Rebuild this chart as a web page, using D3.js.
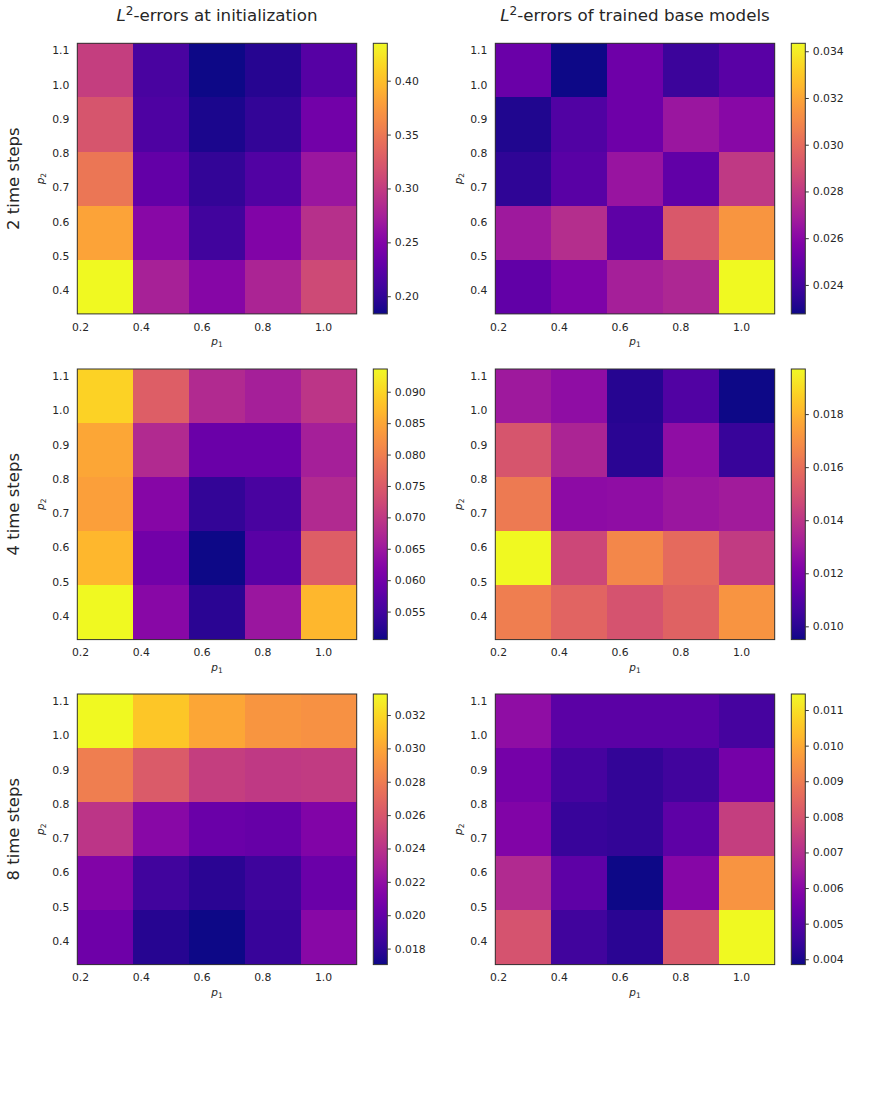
<!DOCTYPE html>
<html><head><meta charset="utf-8">
<script src="https://cdn.jsdelivr.net/npm/d3@7"></script>
<style>body{margin:0;background:#fff}svg{display:block}text{font-family:"DejaVu Sans",sans-serif;fill:#262626}</style>
</head><body>
<script>
// cell centres (data units) and tick labels
const p1Values = [0.283, 0.467, 0.651, 0.835, 1.019];
const p2Values = [0.410, 0.568, 0.726, 0.884, 1.042];
const p1Ticks = [0.2, 0.4, 0.6, 0.8, 1.0];
const p2Ticks = [0.4, 0.5, 0.6, 0.7, 0.8, 0.9, 1.0, 1.1];
const colTitles = ["errors at initialization", "errors of trained base models"];
const rowTitles = ["2 time steps", "4 time steps", "8 time steps"];
// rows listed top (high p2) to bottom (low p2)
const init2 = [
  [0.3016, 0.2137, 0.1836, 0.1936, 0.2213],
  [0.3217, 0.2162, 0.1886, 0.2012, 0.2388],
  [0.3493, 0.2288, 0.2012, 0.2188, 0.2665],
  [0.3820, 0.2539, 0.2087, 0.2489, 0.2891],
  [0.4347, 0.2765, 0.2514, 0.2790, 0.3117]];
const trained2 = [
  [0.02508, 0.02276, 0.02519, 0.02380, 0.02461],
  [0.02311, 0.02438, 0.02519, 0.02658, 0.02600],
  [0.02345, 0.02461, 0.02647, 0.02484, 0.02797],
  [0.02670, 0.02751, 0.02473, 0.02924, 0.03145],
  [0.02484, 0.02566, 0.02693, 0.02728, 0.03434]];
const init4 = [
  [0.08974, 0.07553, 0.06777, 0.06605, 0.06950],
  [0.08500, 0.06777, 0.05916, 0.05916, 0.06605],
  [0.08414, 0.06217, 0.05356, 0.05571, 0.06777],
  [0.08673, 0.06002, 0.05054, 0.05743, 0.07553],
  [0.09362, 0.06260, 0.05269, 0.06476, 0.08673]];
const trained4 = [
  [0.01297, 0.01256, 0.00991, 0.01093, 0.00950],
  [0.01511, 0.01338, 0.01001, 0.01256, 0.01032],
  [0.01633, 0.01246, 0.01256, 0.01287, 0.01307],
  [0.01970, 0.01460, 0.01674, 0.01582, 0.01419],
  [0.01644, 0.01562, 0.01501, 0.01552, 0.01715]];
const init8 = [
  [0.03326, 0.03131, 0.03002, 0.02921, 0.02904],
  [0.02807, 0.02629, 0.02466, 0.02434, 0.02450],
  [0.02418, 0.02158, 0.02028, 0.02012, 0.02126],
  [0.02126, 0.01866, 0.01785, 0.01850, 0.02028],
  [0.02045, 0.01769, 0.01704, 0.01834, 0.02158]];
const trained8 = [
  [0.00613, 0.00507, 0.00507, 0.00507, 0.00469],
  [0.00560, 0.00469, 0.00438, 0.00461, 0.00560],
  [0.00583, 0.00446, 0.00438, 0.00514, 0.00742],
  [0.00689, 0.00514, 0.00385, 0.00590, 0.00955],
  [0.00795, 0.00461, 0.00423, 0.00811, 0.01145]];
const cbTicks = [
  [[0.20, 0.25, 0.30, 0.35, 0.40], [0.024, 0.026, 0.028, 0.030, 0.032, 0.034]],
  [[0.055, 0.060, 0.065, 0.070, 0.075, 0.080, 0.085, 0.090], [0.010, 0.012, 0.014, 0.016, 0.018]],
  [[0.018, 0.020, 0.022, 0.024, 0.026, 0.028, 0.030, 0.032], [0.004, 0.005, 0.006, 0.007, 0.008, 0.009, 0.010, 0.011]]];
const cbFormats = [[".2f", ".3f"], [".3f", ".3f"], [".3f", ".3f"]];
const panels = [[init2, trained2], [init4, trained4], [init8, trained8]];

const W = 872, H = 1119;
const svg = d3.select("body").append("svg").attr("width", W).attr("height", H);
const defs = svg.append("defs");
const colX = [77.3, 495.3], plotW = 279.4, cbOff = 296, cbW = 14;
const rowY = [43.3, 369, 694], plotH = 270.6;
const step1 = p1Values[1] - p1Values[0], step2 = p2Values[1] - p2Values[0];
const xDom = [p1Values[0] - step1 / 2, p1Values[4] + step1 / 2];
const yDom = [p2Values[0] - step2 / 2, p2Values[4] + step2 / 2];

// gradient for colorbars
const grad = defs.append("linearGradient").attr("id", "plasma").attr("x1", 0).attr("x2", 0).attr("y1", 1).attr("y2", 0);
d3.range(0, 1.0001, 0.02).forEach(t => grad.append("stop").attr("offset", t).attr("stop-color", d3.interpolatePlasma(t)));

rowY.forEach((y0, r) => {
  colX.forEach((x0, c) => {
    const data = panels[r][c];
    const flat = data.flat();
    const ext = d3.extent(flat);
    const color = d3.scaleSequential(d3.interpolatePlasma).domain(ext);
    const x = d3.scaleLinear().domain(xDom).range([x0, x0 + plotW]);
    const y = d3.scaleLinear().domain(yDom).range([y0 + plotH, y0]);
    const g = svg.append("g");
    const cells = [];
    data.forEach((row, i) => row.forEach((v, j) => cells.push({ i: 4 - i, j, p1: p1Values[j], p2: p2Values[4 - i], v })));
    // cell edges: midpoints between neighbouring centres
    const e1 = [xDom[0], ...d3.range(4).map(k => (p1Values[k] + p1Values[k + 1]) / 2), xDom[1]].map(v => Math.round(x(v)));
    const e2 = [yDom[0], ...d3.range(4).map(k => (p2Values[k] + p2Values[k + 1]) / 2), yDom[1]].map(v => Math.round(y(v)));
    g.selectAll("rect.cell").data(cells).join("rect")
      .attr("x", d => e1[d.j]).attr("width", d => e1[d.j + 1] - e1[d.j])
      .attr("y", d => e2[d.i + 1]).attr("height", d => e2[d.i] - e2[d.i + 1])
      .attr("fill", d => color(d.v)).attr("shape-rendering", "crispEdges");
    g.append("rect").attr("x", x0).attr("y", y0).attr("width", plotW).attr("height", plotH)
      .attr("fill", "none").attr("stroke", "#333").attr("stroke-width", 1);
    // x axis
    const xa = g.append("g").attr("transform", `translate(0,${y0 + plotH})`)
      .call(d3.axisBottom(x).tickValues(p1Ticks).tickFormat(d3.format(".1f")).tickSize(0).tickPadding(9));
    xa.select(".domain").remove();
    xa.selectAll("text").attr("font-size", 10.8).attr("fill", "#262626");
    const ya = g.append("g").attr("transform", `translate(${x0},0)`)
      .call(d3.axisLeft(y).tickValues(p2Ticks).tickFormat(d3.format(".1f")).tickSize(0).tickPadding(8));
    ya.select(".domain").remove();
    ya.selectAll("text").attr("font-size", 10.8).attr("fill", "#262626");
    // axis labels
    const xl = g.append("text").attr("x", x0 + plotW / 2).attr("y", y0 + plotH + 31)
      .attr("text-anchor", "middle").attr("font-size", 10.5);
    xl.append("tspan").attr("font-style", "italic").text("p");
    xl.append("tspan").attr("font-size", 7.5).attr("dy", 2).text("1");
    const yl = g.append("text").attr("transform", `translate(${x0 - 33},${y0 + plotH / 2}) rotate(-90)`)
      .attr("text-anchor", "middle").attr("font-size", 10.5);
    yl.append("tspan").attr("font-style", "italic").text("p");
    yl.append("tspan").attr("font-size", 7.5).attr("dy", 2).text("2");
    // colorbar
    const cx = x0 + cbOff;
    const cy = d3.scaleLinear().domain(ext).range([y0 + plotH, y0]);
    g.append("rect").attr("x", cx).attr("y", y0).attr("width", cbW).attr("height", plotH)
      .attr("fill", "url(#plasma)").attr("stroke", "#333").attr("stroke-width", 1);
    const ca = g.append("g").attr("transform", `translate(${cx + cbW},0)`)
      .call(d3.axisRight(cy).tickValues(cbTicks[r][c]).tickFormat(d3.format(cbFormats[r][c])).tickSize(3.5).tickPadding(4));
    ca.select(".domain").remove();
    ca.selectAll("line").attr("stroke", "#333");
    ca.selectAll("text").attr("font-size", 10.8).attr("fill", "#262626");
    // column titles
    if (r === 0) {
      const t = g.append("text").attr("x", x0 + plotW / 2).attr("y", 21)
        .attr("text-anchor", "middle").attr("font-size", 16.7);
      t.append("tspan").attr("font-style", "italic").text("L");
      t.append("tspan").attr("font-size", 12).attr("dy", -6).text("2");
      t.append("tspan").attr("dy", 6).text("-" + colTitles[c]);
    }
    if (c === 0) {
      g.append("text").attr("transform", `translate(19,${y0 + plotH / 2}) rotate(-90)`)
        .attr("text-anchor", "middle").attr("font-size", 16.5).text(rowTitles[r]);
    }
  });
});
</script>
</body></html>
